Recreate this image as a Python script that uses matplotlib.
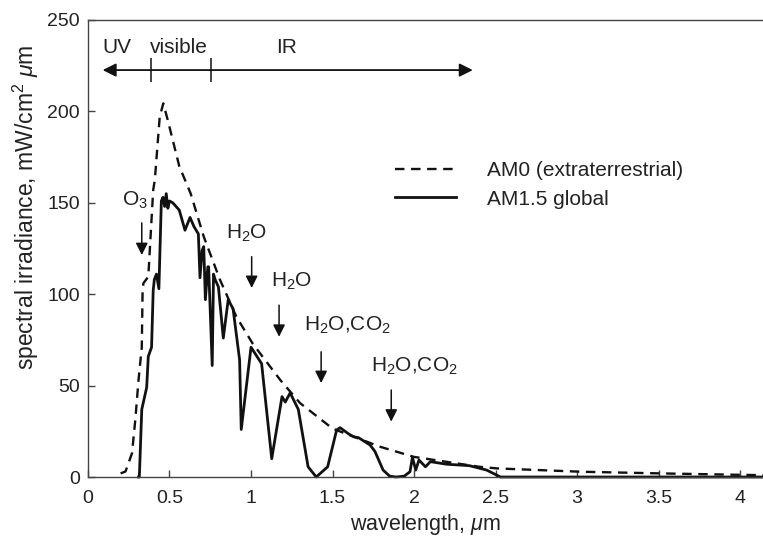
import matplotlib
matplotlib.use('Agg')
import matplotlib.pyplot as plt

plt.rcParams['font.family'] = ['Liberation Sans', 'DejaVu Sans']
plt.rcParams['mathtext.fontset'] = 'custom'
plt.rcParams['mathtext.rm'] = 'Liberation Sans'
plt.rcParams['mathtext.it'] = 'Liberation Sans:italic'

# AM0 (extraterrestrial) spectrum
am0_wl = [0.20, 0.23, 0.27, 0.29, 0.31, 0.33, 0.335, 0.34, 0.37, 0.40, 0.41, 0.44,
          0.462, 0.49, 0.56, 0.63, 0.71, 0.81, 0.91, 1.01, 1.18, 1.30, 1.50, 1.79,
          2.00, 2.40, 2.51, 3.02, 3.50, 4.00, 4.14]
am0_irr = [2, 3, 13, 31, 53, 71, 102, 106, 109.6, 157, 162.5, 197,
           204.4, 195, 170, 155, 131.5, 107.8, 87.7, 73, 53, 40.5, 26.5, 16.6,
           11, 5.6, 4.7, 2.9, 2.0, 1.2, 1.0]

# AM1.5 global spectrum
am15_wl = [0.31, 0.315, 0.33, 0.36, 0.37, 0.39, 0.40, 0.407, 0.42, 0.435, 0.45, 0.46,
           0.47, 0.48, 0.49, 0.50, 0.52, 0.54, 0.56, 0.595, 0.626, 0.65, 0.677, 0.687,
           0.70, 0.71, 0.72, 0.735, 0.74, 0.762, 0.77, 0.78, 0.80, 0.83, 0.86, 0.89,
           0.93, 0.94, 1.0, 1.065, 1.127, 1.19, 1.21, 1.24, 1.29, 1.35, 1.40, 1.47,
           1.525, 1.546, 1.60, 1.63, 1.66, 1.73, 1.76, 1.81, 1.85, 1.89, 1.94, 1.975,
           1.99, 2.01, 2.03, 2.07, 2.10, 2.20, 2.34, 2.445, 2.53, 4.14]
am15_irr = [0, 0, 37, 49, 66, 71, 102, 108, 111, 103, 151, 153,
            148, 155, 147, 151, 150, 148, 146, 135, 142, 137, 133, 109,
            124, 126, 97, 115, 115, 61, 111, 108, 104, 76, 97, 92,
            64, 26, 71, 62, 10, 44, 41, 46, 37, 5.6, 0, 5.6,
            25.7, 27, 23.5, 22, 21.5, 17.5, 14, 3.8, 0.5, 0, 0.5, 2.9,
            10.8, 3.8, 9.3, 5.6, 8.4, 7, 6.2, 3.8, 0, 0]

# absorption band labels
band_labels = ['O$_3$', 'H$_2$O', 'H$_2$O', 'H$_2$O,CO$_2$', 'H$_2$O,CO$_2$']
band_text_x = [0.29, 0.975, 1.25, 1.59, 2.0]
band_text_y = [151.5, 133.5, 106.8, 83, 60.3]
band_arrow_x = [0.33, 1.004, 1.172, 1.43, 1.86]
band_arrow_top = [139, 120.5, 94, 68.5, 47.6]
band_arrow_bottom = [121.4, 103.4, 76.7, 51.4, 30.3]

# UV / visible / IR bar
region_names = ['UV', 'visible', 'IR']
region_name_x = [0.18, 0.56, 1.22]
region_edges = [0.385, 0.755]
bar_start, bar_end, bar_y = 0.09, 2.36, 222.6

x_ticks = [0, 0.5, 1, 1.5, 2, 2.5, 3, 3.5, 4]
x_tick_labels = ['0', '0.5', '1', '1.5', '2', '2.5', '3', '3.5', '4']
y_ticks = [0, 50, 100, 150, 200, 250]

fig = plt.figure(figsize=(7.63, 5.37), dpi=100)
ax = fig.add_axes([0.1153, 0.1117, 0.8847, 0.8511])

ax.plot(am0_wl, am0_irr, color='#111111', lw=1.7, linestyle=(0, (4, 2.8)),
        label='AM0 (extraterrestrial)', clip_on=False)
ax.plot(am15_wl, am15_irr, color='#111111', lw=2.0,
        label='AM1.5 global', clip_on=False)

# band arrows and their labels
for lab, tx, ty in zip(band_labels, band_text_x, band_text_y):
    ax.text(tx, ty, lab, fontsize=15, ha='center', va='center', color='#222222')
for ax_x, top, bot in zip(band_arrow_x, band_arrow_top, band_arrow_bottom):
    ax.annotate('', xy=(ax_x, bot), xytext=(ax_x, top),
                arrowprops=dict(arrowstyle='-|>', color='#111111', lw=1.1,
                                mutation_scale=18, shrinkA=0, shrinkB=0))

# spectral regions bar at the top
ax.annotate('', xy=(bar_end, bar_y), xytext=(bar_start, bar_y),
            arrowprops=dict(arrowstyle='<|-|>', color='#111111', lw=1.3,
                            mutation_scale=20, shrinkA=0, shrinkB=0))
ax.vlines(region_edges, bar_y - 6.5, bar_y + 6.5, color='#111111', lw=1.1)
for name, nx in zip(region_names, region_name_x):
    ax.text(nx, 234.7, name, fontsize=15, ha='center', va='center', color='#222222')

ax.set_xlim(0, 4.14)
ax.set_ylim(0, 250)
ax.set_xticks(x_ticks)
ax.set_xticklabels(x_tick_labels)
ax.set_yticks(y_ticks)
ax.tick_params(direction='in', length=5, width=1, color='#444444',
               labelsize=14, labelcolor='#222222')
ax.tick_params(axis='x', pad=9)
ax.tick_params(axis='y', pad=6)

ax.spines['right'].set_visible(False)
for s in ['left', 'bottom', 'top']:
    ax.spines[s].set_color('#444444')
    ax.spines[s].set_linewidth(1.0)

ax.set_xlabel('wavelength, $\\mu$m', fontsize=15.5, color='#222222')
ax.set_ylabel('spectral irradiance, mW/cm$^2$ $\\mu$m', fontsize=16.5, color='#222222')
ax.yaxis.set_label_coords(-0.07, 0.59)

ax.legend(loc='center left', bbox_to_anchor=(0.455, 0.639), frameon=False,
          fontsize=15, handlelength=2.9, handletextpad=1.5, labelspacing=0.45,
          borderpad=0, borderaxespad=0, labelcolor='#222222')

plt.savefig('out.png', dpi=100)
